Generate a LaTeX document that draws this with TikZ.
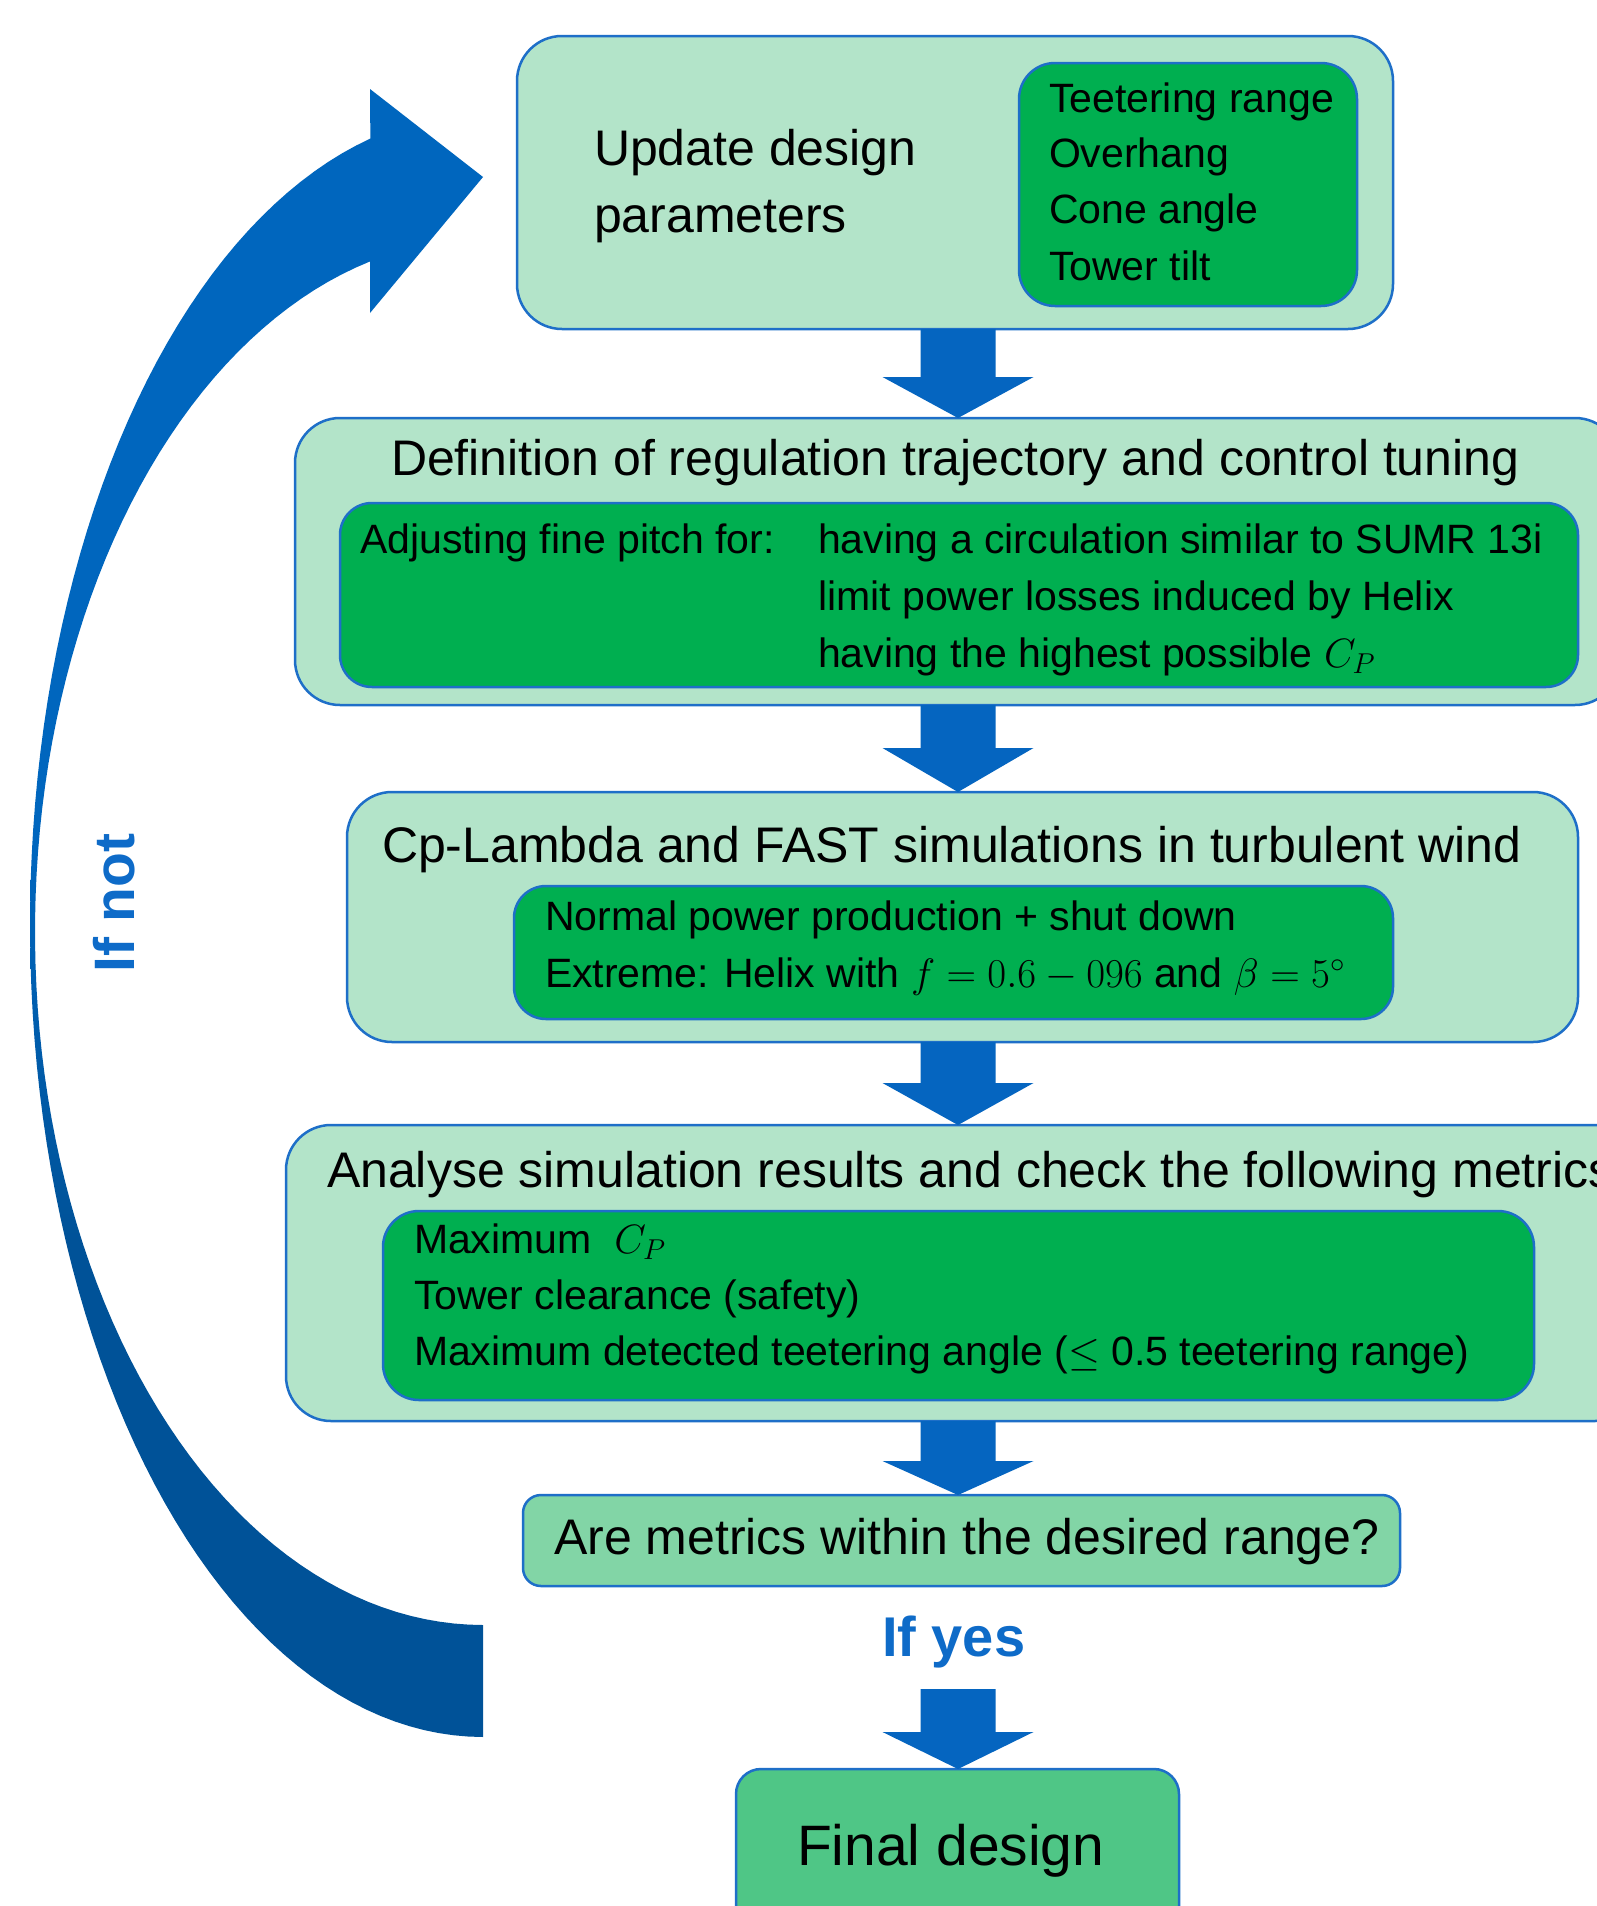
\RequirePackage{fix-cm}
\documentclass[tikz,border=0pt]{standalone}
\usepackage{fontspec}
\setmainfont{Liberation Sans}
\usetikzlibrary{calc}
\definecolor{lightg}{HTML}{B3E4C9}
\definecolor{darkg}{HTML}{00AF50}
\definecolor{edgeblue}{HTML}{1E6FC8}
\definecolor{arrowblue}{HTML}{0565C0}
\definecolor{qgreen}{HTML}{82D5A6}
\definecolor{fgreen}{HTML}{4FC686}
\definecolor{loopbright}{HTML}{0066BE}
\definecolor{loopdark}{HTML}{005298}
\definecolor{labelblue}{HTML}{0E6BC8}
\pgfdeclareverticalshading{loopshade}{100bp}{color(0bp)=(loopdark); color(40bp)=(loopdark); color(52bp)=(loopbright); color(100bp)=(loopbright)}
\begin{document}
\begin{tikzpicture}[x=1pt,y=-1pt,
  box/.style={draw=edgeblue, line width=2.5pt, inner sep=0pt, outer sep=0pt, anchor=north west},
  outerbox/.style={box, fill=lightg, rounded corners=45pt},
  innerbox/.style={box, fill=darkg, rounded corners=36pt},
  txt/.style={inner sep=0pt, outer sep=0pt, anchor=base west, font=\fontsize{41}{56}\selectfont},
  bigtxt/.style={txt, font=\fontsize{50}{60}\selectfont},
  blockarrow/.style={to path={let \p1=(\tikztostart), \p2=(\tikztotarget) in
     (\x1-37.5pt,\y1) -- (\x1+37.5pt,\y1) -- (\x1+37.5pt,\y2+#1) -- (\x1+75.5pt,\y2+#1)
     -- (\x1,\y2) -- (\x1-75.5pt,\y2+#1) -- (\x1-37.5pt,\y2+#1) -- cycle}},
  blockarrow/.default=42pt
]
\clip (0,0) rectangle (1597,1906);
\fill[white] (0,0) rectangle (1597,1906);

% boxes
\node[outerbox, minimum width=876pt, minimum height=293pt] (b1) at (517,36) {};
\node[innerbox, minimum width=338pt, minimum height=243pt] (b1in) at (1019,63) {};
\node[outerbox, minimum width=1325pt, minimum height=287pt] (b2) at (295,418) {};
\node[innerbox, rounded corners=32pt, minimum width=1238pt, minimum height=184pt] (b2in) at (340,503) {};
\node[outerbox, minimum width=1231pt, minimum height=250pt] (b3) at (347,792) {};
\node[innerbox, rounded corners=32pt, minimum width=879pt, minimum height=133pt] (b3in) at (514,886) {};
\node[outerbox, minimum width=1354pt, minimum height=296pt] (b4) at (286,1125) {};
\node[innerbox, minimum width=1151pt, minimum height=189pt] (b4in) at (383,1211) {};
\node[box, fill=qgreen, rounded corners=18pt, minimum width=877pt, minimum height=91pt] (b5) at (523,1495) {};
\node[box, fill=fgreen, rounded corners=25pt, minimum width=443pt, minimum height=191pt] (b6) at (736,1769) {};

% texts
\node[bigtxt] (t1a) at (594,165) {Update design};
\node[bigtxt] (t1b) at (594,232) {parameters};
\node[txt] (p1) at (1049,112) {Teetering range};
\node[txt] (p2) at (1049,167) {Overhang};
\node[txt] (p3) at (1049,223) {Cone angle};
\node[txt] (p4) at (1049,280) {Tower tilt};

\node[bigtxt] (t2) at (391,475) {Definition of regulation trajectory and control tuning};
\node[txt] (q0) at (360,553) {Adjusting fine pitch for:};
\node[txt] (q1) at (818,553) {having a circulation similar to SUMR 13i};
\node[txt] (q2) at (818,610) {limit power losses induced by Helix};
\node[txt] (q3) at (818,667) {having the highest possible $C_P$};

\node[bigtxt] (t3) at (382,862) {Cp-Lambda and FAST simulations in turbulent wind};
\node[txt] (r1) at (545,930) {Normal power production + shut down};
\node[txt] (r2) at (545,987) {Extreme: Helix with $f=0.6-096$ and $\beta=5^\circ$};

\node[bigtxt] (t4) at (327,1187) {Analyse simulation results and check the following metrics};
\node[txt] (s1) at (414,1253) {Maximum \ $C_P$};
\node[txt] (s2) at (414,1309) {Tower clearance (safety)};
\node[txt] (s3) at (414,1365) {Maximum detected teetering angle ($\leq$ 0.5 teetering range)};

\node[bigtxt] (t5) at (554,1554) {Are metrics within the desired range?};
\node[txt, font=\fontsize{56}{60}\selectfont\bfseries, text=labelblue] (yes) at (882,1656) {If yes};
\node[txt, font=\fontsize{57}{62}\selectfont] (t6) at (797,1865) {Final design};
\node[inner sep=0pt, rotate=90, font=\fontsize{57}{62}\selectfont\bfseries, text=labelblue] (no) at (114,903) {If not};

% straight block arrows
\coordinate (ax) at (958,0);
\coordinate (a5s) at (958,1689);
\fill[arrowblue] (b1.south -| ax) to[blockarrow=41pt] (b2.north -| ax);
\fill[arrowblue] (b2.south -| ax) to[blockarrow=44pt] (b3.north -| ax);
\fill[arrowblue] (b3.south -| ax) to[blockarrow=42pt] (b4.north -| ax);
\fill[arrowblue] (b4.south -| ax) to[blockarrow=34pt] (b5.north -| ax);
\fill[arrowblue] (a5s) to[blockarrow=37pt] (b6.north -| ax);

% curved loop arrow (two elliptical arcs and a head)
\coordinate (headlow) at (370,313);
\coordinate (tip) at (483,177);
\coordinate (headup) at (370,89);
\shade[shading=loopshade]
  plot[domain=255.6:90, samples=90] ({483+453*cos(\x)},{925+812*sin(\x)})
  -- plot[domain=90:255.4, samples=90] ({483+448*cos(\x)},{932+693*sin(\x)})
  -- (headlow) -- (tip) -- (headup) -- cycle;
\end{tikzpicture}
\end{document}
